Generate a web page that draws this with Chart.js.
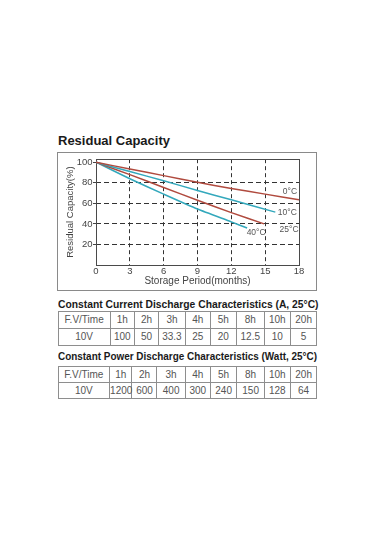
<!DOCTYPE html>
<html lang="en">
<head>
  <meta charset="UTF-8">
  <title>Residual Capacity</title>
  <script src="https://cdn.jsdelivr.net/npm/chart.js"></script>
  <style>
    body { margin: 0; background: #fff; font-family: "Liberation Sans", Arial, sans-serif; }
    .abs { position: absolute; }
    .title { left: 58px; top: 134px; font-size: 13px; line-height: 13px; font-weight: bold; color: #1a1a1a; }
    .head { left: 57.5px; font-size: 10.4px; line-height: 10.5px; font-weight: bold; color: #1a1a1a; white-space: nowrap; transform-origin: left center; }
    #frame { left: 57px; top: 152px; width: 260px; height: 139px; border: 1.5px solid #8a8a8a; box-sizing: border-box; }
    #chartBox { left: 58px; top: 153px; width: 258px; height: 137px; }
    table { position: absolute; left: 57.5px; width: 259px; border-collapse: collapse; table-layout: fixed; }
    td { border: 1px solid #8e8e8e; padding: 0; font-size: 10px; color: #555; text-align: center; overflow: visible; white-space: nowrap; }
  </style>
</head>
<body>
  <div class="abs title">Residual Capacity</div>
  <div id="frame" class="abs"></div>
  <div id="chartBox" class="abs"><canvas id="capChart" width="258" height="137"></canvas></div>

  <div id="head1" class="abs head" style="top:299.5px">Constant Current Discharge Characteristics (A, 25°C)</div>
  <table id="currentTable" style="top:310.5px"></table>

  <div id="head2" class="abs head" style="top:351.5px">Constant Power Discharge Characteristics (Watt, 25°C)</div>
  <table id="powerTable" style="top:365.5px"></table>

  <script>
    // residual capacity curves
    const seriesNames = ['0°C', '10°C', '25°C', '40°C'];
    const months0 = [0, 3, 6, 9, 12, 15, 18];
    const cap0 = [100, 93.5, 87, 80.5, 74.5, 69, 63.5];
    const months10 = [0, 3, 6, 9, 12, 15.9];
    const cap10 = [100, 91, 82, 72.5, 63.5, 51.5];
    const months25 = [0, 3, 6, 9, 12, 14.9];
    const cap25 = [100, 88, 75.5, 63, 51, 40];
    const months40 = [0, 3, 6, 9, 12, 13.4];
    const cap40 = [100, 84, 69, 54.5, 42, 36];

    const xTicks = [0, 3, 6, 9, 12, 15, 18];
    const yTicks = [20, 40, 60, 80, 100];

    // discharge tables
    const fvLabel = 'F.V/Time';
    const finalVoltage = '10V';
    const timeCols = ['1h', '2h', '3h', '4h', '5h', '8h', '10h', '20h'];
    const currentA = [100, 50, 33.3, 25, 20, 12.5, 10, 5];
    const powerW = [1200, 600, 400, 300, 240, 150, 128, 64];

    const BROWN = '#b04a3e';
    const TEAL = '#33a8bc';
    const FONT = '"Liberation Sans", Arial, sans-serif';

    function pts(xs, ys) {
      return xs.map((x, i) => ({ x: x, y: ys[i] }));
    }

    function ds(i, xs, ys, color) {
      return {
        label: seriesNames[i], data: pts(xs, ys), borderColor: color,
        borderWidth: 1.5, pointRadius: 0, tension: 0.2, fill: false
      };
    }

    // where each curve name sits relative to its last point (px)
    const labelOffsets = [[-9, -8], [12, 1], [25, 6], [9, 5]];

    const extras = {
      id: 'extras',
      beforeDatasetsDraw(chart) {
        const a = chart.chartArea, c = chart.ctx;
        c.save();
        c.strokeStyle = '#4a4a4a';
        c.lineWidth = 1;
        c.strokeRect(Math.round(a.left) + 0.5, Math.round(a.top) + 0.5,
          Math.round(a.right - a.left), Math.round(a.bottom - a.top));
        c.restore();
      },
      afterDatasetsDraw(chart) {
        const c = chart.ctx;
        const xs = chart.scales.x, ys = chart.scales.y;
        c.save();
        c.font = '8.5px ' + FONT;
        c.fillStyle = '#555';
        c.textAlign = 'center';
        c.textBaseline = 'middle';
        chart.data.datasets.forEach((d, i) => {
          const last = d.data[d.data.length - 1];
          const px = xs.getPixelForValue(last.x) + labelOffsets[i][0];
          const py = ys.getPixelForValue(last.y) + labelOffsets[i][1];
          c.fillText(d.label, px, py);
        });
        c.restore();
      }
    };

    const gridColor = edge => ctx => (edge.includes(ctx.tick && ctx.tick.value) ? 'rgba(0,0,0,0)' : '#333');

    new Chart(document.getElementById('capChart'), {
      type: 'line',
      data: {
        datasets: [
          ds(0, months0, cap0, BROWN),
          ds(1, months10, cap10, TEAL),
          ds(2, months25, cap25, BROWN),
          ds(3, months40, cap40, TEAL)
        ]
      },
      options: {
        responsive: false,
        animation: false,
        devicePixelRatio: 1,
        layout: { padding: { top: 5, right: 17, left: 0, bottom: 0 } },
        plugins: { legend: { display: false }, tooltip: { enabled: false } },
        scales: {
          x: {
            type: 'linear', min: 0, max: 18,
            afterBuildTicks: s => { s.ticks = xTicks.map(v => ({ value: v })); },
            afterFit: s => { s.height = 25; },
            grid: { color: gridColor([0, 18]), lineWidth: 1, drawTicks: false },
            border: { display: false, dash: [4, 3] },
            ticks: { padding: 1, color: '#444', font: { size: 9.5, family: FONT } },
            title: {
              display: true, text: 'Storage Period(months)', color: '#444',
              font: { size: 10, family: FONT }, padding: { top: 0, bottom: 2.3 }
            }
          },
          y: {
            min: 0, max: 103,
            afterBuildTicks: s => { s.ticks = yTicks.map(v => ({ value: v })); },
            afterFit: s => { s.width = 38; },
            grid: {
              color: gridColor([0, 100]), lineWidth: 1, drawTicks: true,
              tickLength: 3, tickColor: '#444', tickBorderDash: []
            },
            border: { display: false, dash: [5, 3] },
            ticks: { padding: 0.5, color: '#444', font: { size: 9.5, family: FONT } },
            title: {
              display: true, text: 'Residual Capacity(%)', color: '#444',
              font: { size: 9.5, family: FONT }, padding: { top: 6.3, bottom: 0 }
            }
          }
        }
      },
      plugins: [extras]
    });

    function buildTable(id, values, widths, rowH) {
      const t = document.getElementById(id);
      let html = '<colgroup>' + widths.map(w => '<col style="width:' + w + 'px">').join('') + '</colgroup>';
      html += '<tr style="height:' + rowH + 'px"><td>' + fvLabel + '</td>' + timeCols.map(h => '<td>' + h + '</td>').join('') + '</tr>';
      html += '<tr style="height:' + rowH + 'px"><td>' + finalVoltage + '</td>' + values.map(v => '<td>' + v + '</td>').join('') + '</tr>';
      t.innerHTML = html;
    }

    // squeeze a heading horizontally so it spans the same width as in the sheet
    function fitWidth(id, target) {
      const el = document.getElementById(id);
      const w = el.getBoundingClientRect().width;
      el.style.transform = 'scaleX(' + (target / w).toFixed(4) + ')';
    }

    buildTable('currentTable', currentA, [52.3, 24, 24.3, 26.7, 25, 26, 28, 26, 26.7], 17);
    buildTable('powerTable', powerW, [51.6, 22.4, 25, 28.3, 25, 26.7, 27.3, 26, 26.7], 16);
    fitWidth('head1', 260.5);
    fitWidth('head2', 259);
  </script>
</body>
</html>
